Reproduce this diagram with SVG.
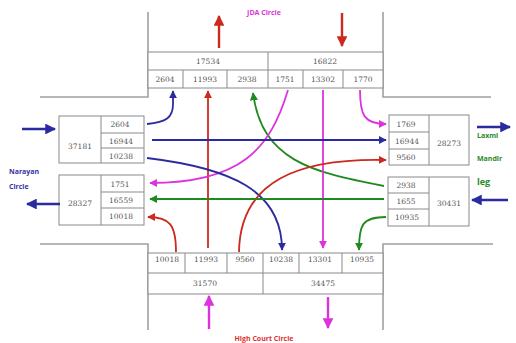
<svg xmlns="http://www.w3.org/2000/svg" width="516" height="343" viewBox="0 0 516 343">
<style>
.road{fill:none;stroke:#a0a0a0;stroke-width:1.6}
.box{fill:#fff;stroke:#8a8a8a;stroke-width:1}
.div{stroke:#8a8a8a;stroke-width:1}
.num{font-family:"DejaVu Serif","Liberation Serif",serif;font-size:7.5px;fill:#555;text-anchor:middle;dominant-baseline:central}
.lbl{font-family:"Open Sans","DejaVu Sans",sans-serif;font-weight:bold;font-size:7px}
.c{fill:none;stroke-width:1.8}
.o{fill:none;stroke-width:2.4}
</style>
<defs>
<marker id="hb" viewBox="0 0 10 10" refX="9" refY="5" markerWidth="4.5" markerHeight="4.5" orient="auto-start-reverse" markerUnits="strokeWidth"><path d="M0,0L10,5L0,10z" fill="#2b2ba0"/></marker>
<marker id="hr" viewBox="0 0 10 10" refX="9" refY="5" markerWidth="4.5" markerHeight="4.5" orient="auto-start-reverse" markerUnits="strokeWidth"><path d="M0,0L10,5L0,10z" fill="#cc2a1e"/></marker>
<marker id="hm" viewBox="0 0 10 10" refX="9" refY="5" markerWidth="4.5" markerHeight="4.5" orient="auto-start-reverse" markerUnits="strokeWidth"><path d="M0,0L10,5L0,10z" fill="#dd33dd"/></marker>
<marker id="hg" viewBox="0 0 10 10" refX="9" refY="5" markerWidth="4.5" markerHeight="4.5" orient="auto-start-reverse" markerUnits="strokeWidth"><path d="M0,0L10,5L0,10z" fill="#1f8a1f"/></marker>
</defs>
<rect width="516" height="343" fill="#fff"/>
<g id="roads">
<path class="road" d="M148,12V97H40"/>
<path class="road" d="M383,12V97H491"/>
<path class="road" d="M40,244H148V330"/>
<path class="road" d="M493,244H383V330"/>
</g>
<g id="top-box">
<rect class="box" x="148" y="52" width="235" height="36"/>
<line class="div" x1="148" y1="70" x2="383" y2="70"/>
<line class="div" x1="268" y1="52" x2="268" y2="88"/>
<line class="div" x1="183" y1="70" x2="183" y2="88"/>
<line class="div" x1="227" y1="70" x2="227" y2="88"/>
<line class="div" x1="303" y1="70" x2="303" y2="88"/>
<line class="div" x1="343" y1="70" x2="343" y2="88"/>
<text class="num" x="208" y="61">17534</text>
<text class="num" x="325" y="61">16822</text>
<text class="num" x="165" y="79">2604</text>
<text class="num" x="205" y="79">11993</text>
<text class="num" x="247" y="79">2938</text>
<text class="num" x="285" y="79">1751</text>
<text class="num" x="323" y="79">13302</text>
<text class="num" x="363" y="79">1770</text>
</g>
<g id="bottom-box">
<rect class="box" x="148" y="253" width="235" height="41"/>
<line class="div" x1="148" y1="273" x2="383" y2="273"/>
<line class="div" x1="263" y1="253" x2="263" y2="294"/>
<line class="div" x1="185" y1="253" x2="185" y2="273"/>
<line class="div" x1="227" y1="253" x2="227" y2="273"/>
<line class="div" x1="299" y1="253" x2="299" y2="273"/>
<line class="div" x1="342" y1="253" x2="342" y2="273"/>
<text class="num" x="167" y="259">10018</text>
<text class="num" x="206" y="259">11993</text>
<text class="num" x="245" y="259">9560</text>
<text class="num" x="281" y="259">10238</text>
<text class="num" x="320" y="259">13301</text>
<text class="num" x="362" y="259">10935</text>
<text class="num" x="205" y="283">31570</text>
<text class="num" x="323" y="283">34475</text>
</g>
<g id="left-in-box">
<rect class="box" x="59" y="116" width="85" height="47"/>
<line class="div" x1="101" y1="116" x2="101" y2="163"/>
<line class="div" x1="101" y1="133" x2="144" y2="133"/>
<line class="div" x1="101" y1="148" x2="144" y2="148"/>
<text class="num" x="80" y="146">37181</text>
<text class="num" x="120" y="124">2604</text>
<text class="num" x="121" y="141">16944</text>
<text class="num" x="121" y="156">10238</text>
</g>
<g id="left-out-box">
<rect class="box" x="59" y="175" width="85" height="50"/>
<line class="div" x1="101" y1="175" x2="101" y2="225"/>
<line class="div" x1="101" y1="192" x2="144" y2="192"/>
<line class="div" x1="101" y1="208" x2="144" y2="208"/>
<text class="num" x="80" y="203">28327</text>
<text class="num" x="120" y="184">1751</text>
<text class="num" x="121" y="200">16559</text>
<text class="num" x="121" y="216">10018</text>
</g>
<g id="right-out-box">
<rect class="box" x="389" y="115" width="80" height="50"/>
<line class="div" x1="429" y1="115" x2="429" y2="165"/>
<line class="div" x1="389" y1="132" x2="429" y2="132"/>
<line class="div" x1="389" y1="149" x2="429" y2="149"/>
<text class="num" x="449" y="143">28273</text>
<text class="num" x="406" y="124">1769</text>
<text class="num" x="407" y="141">16944</text>
<text class="num" x="406" y="157">9560</text>
</g>
<g id="right-in-box">
<rect class="box" x="388" y="177" width="81" height="49"/>
<line class="div" x1="429" y1="177" x2="429" y2="226"/>
<line class="div" x1="388" y1="193" x2="429" y2="193"/>
<line class="div" x1="388" y1="209" x2="429" y2="209"/>
<text class="num" x="449" y="203">30431</text>
<text class="num" x="406" y="185">2938</text>
<text class="num" x="406" y="201">1655</text>
<text class="num" x="407" y="217">10935</text>
</g>
<g id="labels">
<text class="lbl" x="264" y="15" fill="#dd33dd" text-anchor="middle">JDA Circle</text>
<text class="lbl" x="9" y="174" fill="#3535a5">Narayan</text>
<text class="lbl" x="9" y="189" fill="#3535a5">Circle</text>
<text class="lbl" x="477" y="138" fill="#2a8a2a">Laxmi</text>
<text class="lbl" x="477" y="161" fill="#2a8a2a">Mandir</text>
<text class="lbl" x="477" y="185" fill="#2a8a2a" style="font-size:9px">leg</text>
<text class="lbl" x="264" y="341" fill="#dd3030" text-anchor="middle">High Court Circle</text>
</g>
<g id="connectors">
<line class="o" x1="219" y1="48" x2="219" y2="16" stroke="#cc2a1e" marker-end="url(#hr)"/>
<line class="o" x1="342" y1="13" x2="342" y2="46" stroke="#cc2a1e" marker-end="url(#hr)"/>
<line class="o" x1="209" y1="329" x2="209" y2="296" stroke="#dd33dd" marker-end="url(#hm)"/>
<line class="o" x1="328" y1="297" x2="328" y2="328" stroke="#dd33dd" marker-end="url(#hm)"/>
<line class="o" x1="22" y1="129" x2="55" y2="129" stroke="#2b2ba0" marker-end="url(#hb)"/>
<line class="o" x1="60" y1="204" x2="27" y2="204" stroke="#2b2ba0" marker-end="url(#hb)"/>
<line class="o" x1="477" y1="127" x2="510" y2="127" stroke="#2b2ba0" marker-end="url(#hb)"/>
<line class="o" x1="508" y1="200" x2="472" y2="200" stroke="#2b2ba0" marker-end="url(#hb)"/>
<path class="c" d="M147,124C166,122 173,118 173,104V91" stroke="#2b2ba0" marker-end="url(#hb)"/>
<line class="c" x1="208" y1="248" x2="208" y2="91" stroke="#cc2a1e" marker-end="url(#hr)"/>
<path class="c" d="M384,186C310,172 262,160 253,93" stroke="#1f8a1f" marker-end="url(#hg)"/>
<path class="c" d="M288,90C270,150 240,183 150,183" stroke="#dd33dd" marker-end="url(#hm)"/>
<line class="c" x1="323" y1="90" x2="323" y2="248" stroke="#dd33dd" marker-end="url(#hm)"/>
<path class="c" d="M360,90C360,115 364,124 386,124" stroke="#dd33dd" marker-end="url(#hm)"/>
<line class="c" x1="152" y1="140" x2="386" y2="140" stroke="#2b2ba0" marker-end="url(#hb)"/>
<path class="c" d="M147,158C230,168 282,190 282,250" stroke="#2b2ba0" marker-end="url(#hb)"/>
<path class="c" d="M239,252C240,180 300,158 386,160" stroke="#cc2a1e" marker-end="url(#hr)"/>
<line class="c" x1="384" y1="199" x2="150" y2="199" stroke="#1f8a1f" marker-end="url(#hg)"/>
<path class="c" d="M176,252C176,225 170,217 148,217" stroke="#cc2a1e" marker-end="url(#hr)"/>
<path class="c" d="M386,217C362,217 359,225 359,250" stroke="#1f8a1f" marker-end="url(#hg)"/>
</g>
</svg>
